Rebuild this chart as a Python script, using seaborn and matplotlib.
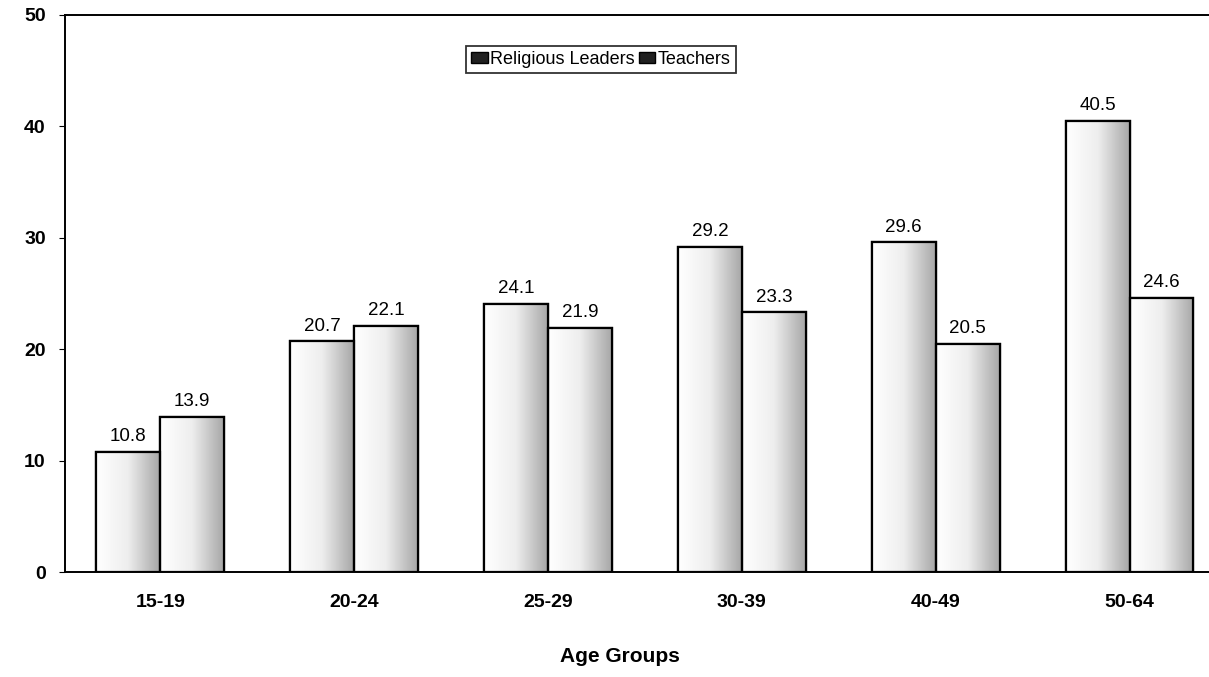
import numpy as np
import pandas as pd
import matplotlib
matplotlib.use("Agg")
import matplotlib.pyplot as plt
import seaborn as sns
from matplotlib.colors import LinearSegmentedColormap
from matplotlib.patches import Patch

age_groups = ["15-19", "20-24", "25-29", "30-39", "40-49", "50-64"]
religious_leaders = [10.8, 20.7, 24.1, 29.2, 29.6, 40.5]
teachers = [13.9, 22.1, 21.9, 23.3, 20.5, 24.6]
series_names = ["Religious Leaders", "Teachers"]
y_ticks = [0, 10, 20, 30, 40, 50]

df = pd.DataFrame({
    "age": age_groups * 2,
    "value": religious_leaders + teachers,
    "series": [series_names[0]] * len(age_groups) + [series_names[1]] * len(age_groups),
})

sns.set_style("white")
plt.rcParams["font.family"] = ["Liberation Sans", "DejaVu Sans"]
plt.rcParams["text.color"] = "black"
plt.rcParams["axes.labelcolor"] = "black"
plt.rcParams["xtick.color"] = "black"
plt.rcParams["ytick.color"] = "black"

fig = plt.figure(figsize=(12.09, 6.77), dpi=100)
ax = fig.add_axes([0.054, 0.155, 0.946, 0.823])

sns.barplot(data=df, x="age", y="value", hue="series", order=age_groups,
            hue_order=series_names, palette=["white", "white"], width=0.66,
            edgecolor="black", linewidth=1.6, ax=ax, legend=False, errorbar=None)

# scan-like shading inside bars (darker toward the right)
grad = np.linspace(0, 1, 64).reshape(1, -1)
cmap = LinearSegmentedColormap.from_list("g", ["#ffffff", "#eeeeee", "#a8a8a8"])
bars = [p for p in ax.patches if p.get_height() > 0]
for p in bars:
    x0, y0 = p.get_x(), p.get_y()
    w, h = p.get_width(), p.get_height()
    im = ax.imshow(grad, extent=[x0, x0 + w, y0, y0 + h], aspect="auto",
                   cmap=cmap, zorder=p.get_zorder() + 0.1, interpolation="bicubic")
    im.set_clip_path(p)
    ax.add_patch(plt.Rectangle((x0, y0), w, h, fill=False, edgecolor="black",
                               linewidth=1.6, zorder=p.get_zorder() + 0.2))
    ax.text(x0 + w / 2, h + 0.6, f"{h:.1f}", ha="center", va="bottom",
            fontsize=13.5, color="black")

ax.set_ylim(0, 50)
ax.set_xlim(-0.49, 5.41)
ax.set_yticks(y_ticks)
ax.set_yticklabels([str(t) for t in y_ticks], fontsize=14, fontweight="bold")
ax.set_xticks(range(len(age_groups)))
ax.set_xticklabels(age_groups, fontsize=14, fontweight="bold")
ax.tick_params(axis="x", length=0, pad=16, colors="black")
ax.tick_params(axis="y", length=4, direction="out", left=True, pad=10, colors="black")
ax.set_xlabel("Age Groups", fontsize=15, fontweight="bold", color="black")
ax.xaxis.set_label_coords(0.485, -0.135)
ax.set_ylabel("")

for s in ["left", "bottom", "top"]:
    ax.spines[s].set_visible(True)
    ax.spines[s].set_color("black")
    ax.spines[s].set_linewidth(1.4)
ax.spines["right"].set_visible(False)

handles = [Patch(facecolor="#202020", edgecolor="black") for _ in series_names]
leg = fig.legend(handles, series_names, loc="center", bbox_to_anchor=(0.497, 0.912),
                 ncol=2, fontsize=13, frameon=True, fancybox=False,
                 edgecolor="black", handlelength=0.9, handleheight=0.6,
                 handletextpad=0.15, columnspacing=0.2, borderpad=0.3,
                 borderaxespad=0, labelcolor="black")
leg.get_frame().set_linewidth(1.3)

fig.savefig("out.png", dpi=100)
